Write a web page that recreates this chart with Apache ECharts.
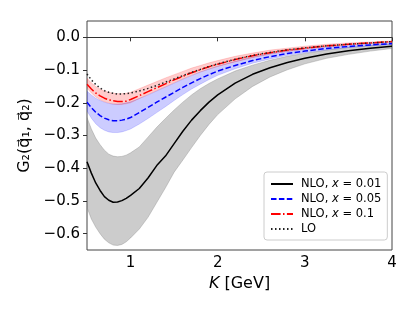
<!DOCTYPE html>
<html><head><meta charset="utf-8">
<script src="https://cdn.jsdelivr.net/npm/echarts@6/dist/echarts.min.js"></script>
<style>html,body{margin:0;padding:0;background:#fff}#c{width:415px;height:311px}</style>
</head><body><div id="c"></div>
<script>
const K = [0.5,0.55,0.6,0.65,0.7,0.75,0.8,0.85,0.9,0.95,1.0,1.1,1.2,1.3,1.4,1.5,1.6,1.7,1.8,1.9,2.0,2.2,2.4,2.6,2.8,3.0,3.25,3.5,3.75,4.0];
const nlo001 = [-0.38,-0.415,-0.445,-0.468,-0.487,-0.498,-0.504,-0.503,-0.499,-0.492,-0.483,-0.462,-0.43,-0.392,-0.363,-0.325,-0.287,-0.253,-0.224,-0.198,-0.176,-0.14,-0.113,-0.093,-0.077,-0.064,-0.051,-0.041,-0.033,-0.027];
const nlo001Hi = [-0.245,-0.28,-0.308,-0.328,-0.345,-0.357,-0.363,-0.365,-0.364,-0.36,-0.353,-0.335,-0.305,-0.275,-0.248,-0.222,-0.198,-0.176,-0.157,-0.141,-0.127,-0.103,-0.085,-0.07,-0.058,-0.049,-0.039,-0.031,-0.025,-0.02];
const nlo001Lo = [-0.52,-0.555,-0.58,-0.6,-0.617,-0.628,-0.635,-0.636,-0.633,-0.625,-0.613,-0.586,-0.55,-0.505,-0.46,-0.412,-0.375,-0.337,-0.3,-0.266,-0.236,-0.188,-0.15,-0.121,-0.099,-0.081,-0.064,-0.052,-0.042,-0.034];
const nlo005 = [-0.198,-0.215,-0.229,-0.239,-0.247,-0.252,-0.255,-0.255,-0.253,-0.25,-0.245,-0.23,-0.214,-0.198,-0.183,-0.168,-0.153,-0.139,-0.126,-0.114,-0.103,-0.086,-0.071,-0.059,-0.049,-0.042,-0.034,-0.028,-0.023,-0.019];
const nlo005Hi = [-0.165,-0.176,-0.186,-0.193,-0.198,-0.202,-0.204,-0.204,-0.203,-0.2,-0.197,-0.187,-0.176,-0.164,-0.152,-0.14,-0.128,-0.117,-0.106,-0.097,-0.088,-0.073,-0.06,-0.05,-0.042,-0.036,-0.029,-0.024,-0.019,-0.016];
const nlo005Lo = [-0.225,-0.247,-0.264,-0.276,-0.284,-0.289,-0.291,-0.291,-0.289,-0.285,-0.28,-0.265,-0.248,-0.23,-0.212,-0.193,-0.175,-0.158,-0.143,-0.129,-0.116,-0.096,-0.079,-0.066,-0.055,-0.047,-0.038,-0.031,-0.026,-0.022];
const nlo01 = [-0.143,-0.158,-0.17,-0.179,-0.186,-0.191,-0.194,-0.196,-0.196,-0.195,-0.19,-0.178,-0.166,-0.154,-0.142,-0.13,-0.119,-0.108,-0.099,-0.09,-0.082,-0.068,-0.056,-0.047,-0.039,-0.033,-0.026,-0.021,-0.017,-0.013];
const nlo01Hi = [-0.125,-0.139,-0.15,-0.158,-0.164,-0.168,-0.171,-0.172,-0.172,-0.171,-0.168,-0.157,-0.146,-0.135,-0.124,-0.114,-0.104,-0.094,-0.086,-0.078,-0.071,-0.058,-0.048,-0.039,-0.033,-0.027,-0.021,-0.017,-0.014,-0.011];
const nlo01Lo = [-0.155,-0.17,-0.182,-0.191,-0.197,-0.201,-0.204,-0.205,-0.205,-0.203,-0.2,-0.187,-0.175,-0.163,-0.151,-0.139,-0.127,-0.116,-0.106,-0.097,-0.089,-0.075,-0.062,-0.051,-0.043,-0.036,-0.029,-0.023,-0.019,-0.015];
const lo = [-0.112,-0.13,-0.144,-0.155,-0.163,-0.168,-0.171,-0.173,-0.173,-0.172,-0.17,-0.164,-0.156,-0.147,-0.137,-0.127,-0.117,-0.107,-0.098,-0.089,-0.081,-0.067,-0.055,-0.046,-0.038,-0.032,-0.026,-0.021,-0.017,-0.013];
const xTicks = [1,2,3,4];
const yTicks = [-0.6,-0.5,-0.4,-0.3,-0.2,-0.1,0.0];
const names = ['NLO, x = 0.01','NLO, x = 0.05','NLO, x = 0.1','LO'];

const FONT = 'DejaVu Sans';
const pairs = (ys) => K.map((k,i)=>[k, ys[i]]);

function band(lower, upper, fill, stroke) {
  return {
    type: 'custom', silent: true, z: 1, clip: true,
    data: [[K[0], upper[0]]],
    renderItem: function (params, api) {
      if (params.dataIndex !== 0) return;
      const pts = [];
      for (let i = 0; i < K.length; i++) pts.push(api.coord([K[i], upper[i]]));
      for (let i = K.length - 1; i >= 0; i--) pts.push(api.coord([K[i], lower[i]]));
      return { type: 'polygon', shape: { points: pts }, style: { fill: fill, stroke: stroke, lineWidth: 1 } };
    }
  };
}
function line(name, ys, color, type, w) {
  return {
    name: name, type: 'line', data: pairs(ys), showSymbol: false, symbol: 'none', z: 5,
    lineStyle: { color: color, width: w, type: type }, itemStyle: { color: color }, silent: true
  };
}

const chart = echarts.init(document.getElementById('c'), null, { renderer: 'canvas' });
const fmtY = v => (v < -1e-9 ? '\u2212' : '') + Math.abs(v).toFixed(1);

const blackLine = line(names[0], nlo001, '#000000', 'solid', 1.5);
blackLine.markLine = {
  silent: true, symbol: 'none', label: { show: false },
  lineStyle: { color: '#333333', width: 1, type: 'solid' },
  data: [{ yAxis: 0 }]
};

chart.setOption({
  animation: false,
  textStyle: { fontFamily: FONT },
  grid: { left: 87, top: 21, right: 23, bottom: 61, show: true, borderColor: '#444', borderWidth: 1, backgroundColor: 'transparent' },
  xAxis: {
    type: 'value', min: 0.5, max: 4,
    name: '{i|K} [GeV]', nameLocation: 'middle', nameGap: 24,
    nameTextStyle: { fontFamily: FONT, fontSize: 16, color: '#000', rich: { i: { fontFamily: FONT, fontStyle: 'italic', fontSize: 16, color: '#000' } } },
    axisLine: { show: false },
    axisTick: { show: true, length: 4, inside: false, customValues: xTicks, lineStyle: { color: '#333', width: 1 } },
    axisLabel: { customValues: xTicks, fontSize: 15, color: '#000', margin: 6, fontFamily: FONT, formatter: v => String(v) },
    splitLine: { show: false }
  },
  yAxis: {
    type: 'value', min: -0.65, max: 0.05,
    name: '{n|G\u2082(q\u20D7\u2081, q\u20D7\u2082)}', nameLocation: 'middle', nameGap: 44, nameRotate: 90,
    nameTextStyle: { fontFamily: FONT, fontSize: 16, color: '#000',
      rich: { n: { fontFamily: FONT, fontSize: 16, color: '#000' } } },
    axisLine: { show: false },
    axisTick: { show: true, length: 4, inside: false, customValues: yTicks, lineStyle: { color: '#333', width: 1 } },
    axisLabel: { customValues: yTicks, fontSize: 15, color: '#000', margin: 7, fontFamily: FONT, formatter: fmtY },
    splitLine: { show: false }
  },
  legend: {
    data: names, orient: 'vertical', left: 264, top: 172,
    padding: [6, 6, 5, 6], itemGap: 3, itemWidth: 22, itemHeight: 14,
    itemStyle: { opacity: 0, borderWidth: 0 },
    backgroundColor: 'rgba(255,255,255,0.85)', borderColor: '#cccccc', borderWidth: 1, borderRadius: 3,
    textStyle: { fontFamily: FONT, fontSize: 11.5, color: '#000', padding: [0, 0, 0, 3],
      rich: { i: { fontFamily: FONT, fontStyle: 'italic', fontSize: 11.5, color: '#000' }, n: { fontFamily: FONT, fontSize: 11.5, color: '#000' } } },
    formatter: function (n) {
      if (n.indexOf('x = ') >= 0) { const p = n.split('x = '); return '{n|' + p[0] + '}{i|x}{n| = ' + p[1] + '}'; }
      return '{n|' + n + '}';
    }
  },
  series: [
    band(nlo001Lo, nlo001Hi, 'rgba(128,128,128,0.4)', 'rgba(128,128,128,0.35)'),
    band(nlo005Lo, nlo005Hi, 'rgba(0,0,255,0.2)', 'rgba(0,0,255,0.15)'),
    band(nlo01Lo, nlo01Hi, 'rgba(255,0,0,0.2)', 'rgba(255,0,0,0.15)'),
    blackLine,
    line(names[1], nlo005, '#0000ff', [5.5, 2.4], 1.5),
    line(names[2], nlo01, '#ff0000', [9.6, 2.4, 1.5, 2.4], 1.5),
    line(names[3], lo, '#222222', [1.5, 2.5], 1.5)
  ]
});
</script></body></html>
